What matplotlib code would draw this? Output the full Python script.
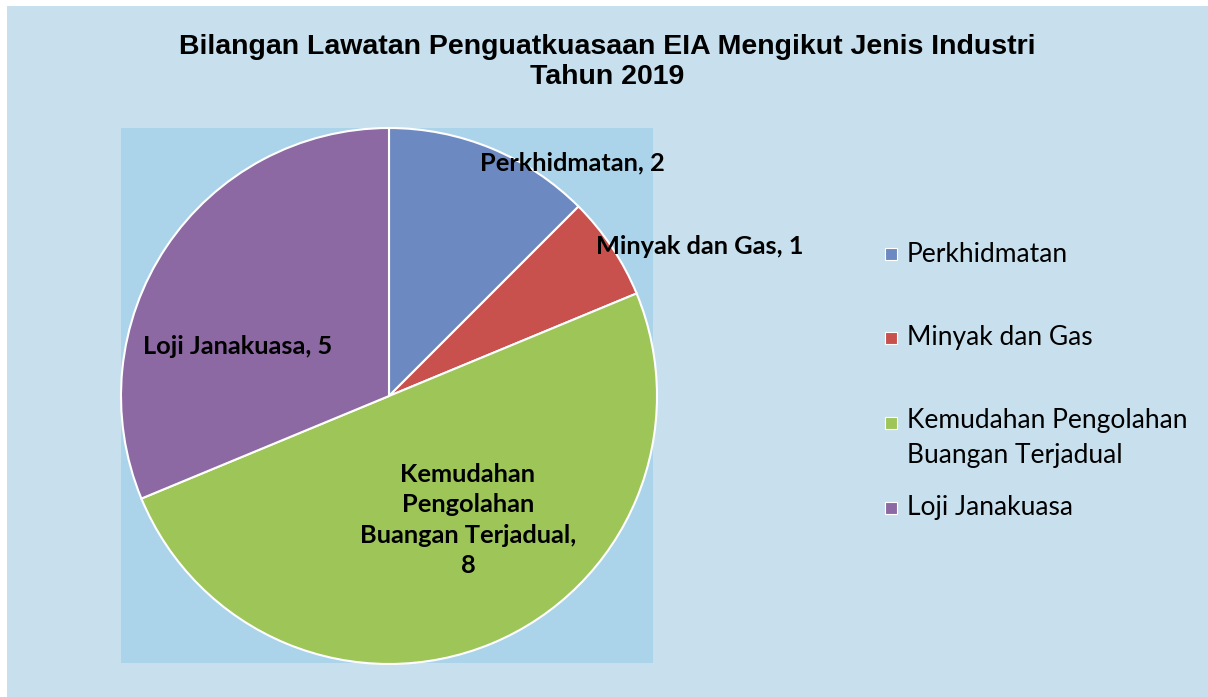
import numpy as np
import matplotlib
matplotlib.use("Agg")
import matplotlib.pyplot as plt
from matplotlib.patches import Rectangle

# data
categories = ["Perkhidmatan", "Minyak dan Gas", "Kemudahan Pengolahan\nBuangan Terjadual", "Loji Janakuasa"]
counts = [2, 1, 8, 5]
colors = ["#6d89c2", "#c8504d", "#9ec558", "#8d69a3"]
title = "Bilangan Lawatan Penguatkuasaan EIA Mengikut Jenis Industri\nTahun 2019"

W, H = 1208, 697
fig = plt.figure(figsize=(W / 100, H / 100), dpi=100, facecolor="white")

# chart background (slight white margin top/left)
fig.patches.append(Rectangle((7 / W, 0), 1 - 7 / W, 1 - 6 / H, transform=fig.transFigure,
                             facecolor="#c8e0ed", edgecolor="none", zorder=-5))

# plot area in pixel units
px0, px1, py0, py1 = 121, 653, 128, 663
ax = fig.add_axes([px0 / W, 1 - py1 / H, (px1 - px0) / W, (py1 - py0) / H])
ax.set_zorder(1)

cx, cy, r = 389, H - 396, 268
wedges, _ = ax.pie(counts, colors=colors, startangle=90, counterclock=False,
                   center=(cx, cy), radius=r, frame=True,
                   wedgeprops=dict(edgecolor="white", linewidth=1.5))
for w in wedges:
    w.set_clip_on(False)
ax.set_facecolor("#abd4eb")
ax.set_xlim(px0, px1)
ax.set_ylim(H - py1, H - py0)
ax.set_xticks([])
ax.set_yticks([])
for s in ax.spines.values():
    s.set_visible(False)

# data labels
lab_font = dict(family=["Lato", "DejaVu Sans"], fontweight="bold", fontsize=18.3, color="black")
label_text = ["Perkhidmatan", "Minyak dan Gas", "Kemudahan\nPengolahan\nBuangan Terjadual", "Loji Janakuasa"]
label_pos = [(572, 163), (700, 246), (468, 520), (238, 347)]
for txt, n, (lx, ly) in zip(label_text, counts, label_pos):
    s = f"{txt}, {n}" if "\n" not in txt else f"{txt},\n{n}"
    t = ax.text(lx, H - ly, s, ha="center", va="center", linespacing=1.38, **lab_font)
    t.set_clip_on(False)

# title
fig.text(607 / W, 1 - 62 / H, title, ha="center", va="center",
         family=["Liberation Sans", "DejaVu Sans"], fontweight="bold", fontsize=20.5,
         linespacing=1.2)

# legend
leg_y = [254, 338, 423, 508]
for c, lab, y in zip(colors, categories, leg_y):
    fig.patches.append(Rectangle((885 / W, 1 - (y + 6) / H), 12 / W, 12 / H,
                                 transform=fig.transFigure, facecolor=c,
                                 edgecolor="white", linewidth=0.8))
    if "\n" in lab:
        fig.text(907 / W, 1 - (y - 15) / H, lab, ha="left", va="top",
                 family=["Lato", "DejaVu Sans"], fontsize=19, linespacing=1.5)
    else:
        fig.text(907 / W, 1 - y / H, lab, ha="left", va="center",
                 family=["Lato", "DejaVu Sans"], fontsize=19)

fig.savefig("out.png", dpi=100, facecolor=fig.get_facecolor())
